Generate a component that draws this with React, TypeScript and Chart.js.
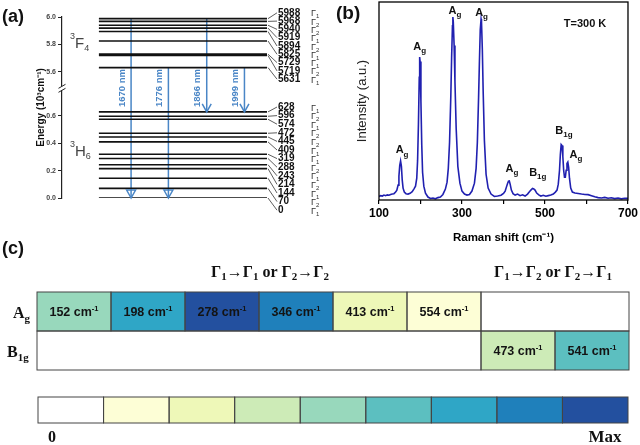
import React, { useEffect, useRef } from 'react';
import { Chart, registerables } from 'chart.js';

Chart.register(...registerables);

const SANS = '"Liberation Sans", Arial, Helvetica, sans-serif';
const SERIF = '"Liberation Serif", "Times New Roman", Times, serif';

/* ---------------- (a) energy levels ---------------- */
const upperLevels = [5988, 5968, 5940, 5919, 5894, 5825, 5729, 5719, 5631];
const upperSymmetry = [1, 2, 2, 1, 2, 1, 1, 2, 1];
const lowerLevels = [628, 596, 574, 472, 445, 409, 319, 288, 243, 214, 144, 70, 0];
const lowerSymmetry = [1, 2, 1, 2, 2, 1, 1, 2, 1, 2, 1, 2, 1];
const transitionNm = [1670, 1776, 1866, 1999];
const transitionFrom = [5988, 5631, 5988, 5631];
const transitionTo = [0, 0, 628, 628];
const energyTicks = [0.0, 0.2, 0.4, 0.6, 5.6, 5.8, 6.0];
const manifoldTerm = ['F', 'H'];
const manifoldJ = ['4', '6'];

/* ---------------- (b) Raman spectrum ---------------- */
const ramanShift = [
  100, 104, 108, 112, 116, 120, 124, 128, 132, 136, 140, 143, 146, 148, 150, 152, 154, 156, 158, 161, 165, 170, 175, 180, 184, 188,
  191, 193, 195, 197, 198, 199, 201, 203, 205, 208, 212, 218, 224, 230, 236, 242, 248, 254, 260,
  264, 267, 270, 273, 275, 277, 278, 279, 281, 283, 286, 290, 295, 300, 306, 312, 318, 324, 330,
  334, 337, 340, 342, 344, 346, 347, 349, 351, 354, 358, 363, 370, 378, 386, 394, 400,
  404, 407, 410, 412, 414, 416, 419, 423, 428, 434, 440, 446, 452, 458, 462, 466, 470, 473, 476, 480, 485, 490, 496, 502, 508, 514, 520, 525,
  529, 532, 535, 537, 539, 541, 543, 545, 547, 549, 551, 553, 555, 557, 559, 562, 566,
  572, 580, 588, 596, 604, 612, 620, 628, 636, 644, 652, 660, 668, 676, 684, 692, 700,
];
const ramanIntensity = [
  0.018, 0.022, 0.02, 0.025, 0.022, 0.026, 0.024, 0.028, 0.03, 0.032, 0.04, 0.05, 0.075, 0.12, 0.175, 0.197, 0.17, 0.1, 0.06, 0.04, 0.032, 0.03, 0.034, 0.042, 0.055, 0.07,
  0.11, 0.2, 0.38, 0.62, 0.722, 0.7, 0.5, 0.28, 0.14, 0.07, 0.035, 0.015, 0.008, 0.01, 0.006, 0.012, 0.015, 0.028, 0.055,
  0.09, 0.16, 0.29, 0.52, 0.72, 0.88, 0.924, 0.9, 0.78, 0.6, 0.36, 0.17, 0.085, 0.045, 0.03, 0.025, 0.028, 0.045, 0.085,
  0.16, 0.29, 0.52, 0.7, 0.86, 0.914, 0.9, 0.76, 0.55, 0.3, 0.13, 0.06, 0.03, 0.018, 0.02, 0.024, 0.033,
  0.045, 0.065, 0.085, 0.095, 0.096, 0.08, 0.05, 0.032, 0.025, 0.03, 0.022, 0.026, 0.02, 0.03, 0.04, 0.05, 0.058, 0.056, 0.05, 0.035, 0.026, 0.02, 0.024, 0.019, 0.022, 0.025, 0.03, 0.04,
  0.05, 0.08, 0.15, 0.23, 0.28, 0.275, 0.22, 0.15, 0.115, 0.115, 0.15, 0.185, 0.192, 0.165, 0.11, 0.06, 0.04,
  0.035, 0.033, 0.03, 0.028, 0.027, 0.022, 0.016, 0.012, 0.01, 0.013, 0.009, 0.011, 0.007, 0.01, 0.006, 0.009, 0.008,
];
const peakShift = [152, 198, 278, 346, 413, 473, 541, 554];
const peakMode = ['Ag', 'Ag', 'Ag', 'Ag', 'Ag', 'B1g', 'B1g', 'Ag'];
const ramanTickLabels = [100, 300, 500, 700];
const temperatureText = 'T=300 K';

/* ---------------- (c) mode table ---------------- */
const rowLabels = ['Ag', 'B1g'];
const agModes = [152, 198, 278, 346, 413, 554];
const agLevel = [4, 6, 8, 7, 2, 1];
const b1gModes = [473, 541];
const b1gLevel = [3, 5];
const headerSubscripts = [['1', '1', '2', '2'], ['1', '2', '2', '1']];
const colorbarLevels = [0, 1, 2, 3, 4, 5, 6, 7, 8];
const colorbarEnds = ['0', 'Max'];

/* ---------------- styles / layout ---------------- */
const palette = ['#ffffff', '#fdfed6', '#eef8b8', '#cdebb7', '#98d8bc', '#5cbfc0', '#2fa6c6', '#1f80bb', '#23509f'];
const BLUE = '#4a86c6';
const SPEC = '#2020b0';
const BREAK_SHIFT = 4.68;
const BREAK_AT = 0.8;
const mapE = (e: number) => (e >= 3000 ? e / 1000 - BREAK_SHIFT : e / 1000);
const LINE_X = [1.8, 10];
const ARROW_X = [3.37, 5.19, 7.06, 8.9];
const PEAK_DX = [1.5, 0, 2, 0.5, 3, 4, 2, 8.5];
const PEAK_DY = [7.5, 6.7, 2.6, 2.6, 8.7, 13, 10.7, 4];
const TOTAL_COLS = 8;

type Seg = { t: string; size: number; bold?: boolean; dy?: number };
function drawRich(ctx: any, segs: Seg[], x: number, y: number, align: string, family: string, color: string) {
  const fontOf = (s: Seg) => `${s.bold ? 'bold ' : ''}${s.size}px ${family}`;
  let w = 0;
  for (const s of segs) { ctx.font = fontOf(s); w += ctx.measureText(s.t).width; }
  let cx = align === 'left' ? x : align === 'center' ? x - w / 2 : x - w;
  ctx.fillStyle = color;
  ctx.textAlign = 'left';
  ctx.textBaseline = 'alphabetic';
  for (const s of segs) {
    ctx.font = fontOf(s);
    ctx.fillText(s.t, cx, y + (s.dy || 0));
    cx += ctx.measureText(s.t).width;
  }
}
const modeSegs = (mode: string, big: number, small: number): Seg[] => [
  { t: mode[0], size: big, bold: true },
  { t: mode.slice(1), size: small, bold: true, dy: small * 0.38 },
];

/* ---------------- panel (a) ---------------- */
const panelAPlugin = {
  id: 'panelA',
  afterDraw(chart: any) {
    const { ctx, chartArea: ca, scales } = chart;
    const xs = scales.x, ys = scales.y;
    ctx.save();
    // axis break
    const by = ys.getPixelForValue(BREAK_AT);
    ctx.fillStyle = '#fff';
    ctx.fillRect(ca.left - 3, by - 2, 6, 4);
    ctx.strokeStyle = '#222';
    ctx.lineWidth = 1;
    for (const o of [-2, 2]) {
      ctx.beginPath();
      ctx.moveTo(ca.left - 3.5, by + o + 2);
      ctx.lineTo(ca.left + 3.5, by + o - 2);
      ctx.stroke();
    }
    // arrow heads + wavelength labels
    transitionNm.forEach((nm, i) => {
      const px = xs.getPixelForValue(ARROW_X[i]);
      const tip = ys.getPixelForValue(mapE(transitionTo[i]));
      ctx.strokeStyle = BLUE;
      ctx.lineWidth = 1.5;
      ctx.beginPath();
      ctx.moveTo(px - 4.5, tip - 8);
      ctx.lineTo(px, tip);
      ctx.lineTo(px + 4.5, tip - 8);
      if (i < 2) ctx.closePath();
      ctx.stroke();
      ctx.save();
      ctx.translate(px - 9, 88);
      ctx.rotate(-Math.PI / 2);
      ctx.font = `bold 9.5px ${SANS}`;
      ctx.fillStyle = BLUE;
      ctx.textAlign = 'center';
      ctx.textBaseline = 'middle';
      ctx.fillText(`${nm} nm`, 0, 0);
      ctx.restore();
    });
    // level value labels
    const group = (levels: number[], syms: number[], y0: number, step: number) =>
      levels.forEach((e, i) => {
        const ly = ys.getPixelForValue(mapE(e));
        const ty = y0 + i * step;
        ctx.strokeStyle = '#333';
        ctx.lineWidth = 0.8;
        ctx.beginPath();
        ctx.moveTo(ca.right + 1, ly);
        ctx.lineTo(ca.right + 10, ty);
        ctx.stroke();
        ctx.font = `bold 10px ${SANS}`;
        ctx.fillStyle = '#111';
        ctx.textAlign = 'left';
        ctx.textBaseline = 'middle';
        ctx.fillText(String(e), ca.right + 11, ty);
        drawRich(ctx, [{ t: 'Γ', size: 9 }, { t: String(syms[i]), size: 6, dy: 2 }], ca.right + 44, ty + 3.5, 'left', SANS, '#333');
      });
    group(upperLevels, upperSymmetry, 12.8, 8.3);
    group(lowerLevels, lowerSymmetry, 107, 8.6);
    // manifold labels
    const mY = [48, 156];
    manifoldTerm.forEach((t, i) => {
      drawRich(ctx, [{ t: '3', size: 9, dy: -9 }, { t, size: 15 }, { t: manifoldJ[i], size: 9, dy: 3 }], 70, mY[i], 'left', SANS, '#444');
    });
    ctx.font = `bold 18px ${SANS}`;
    ctx.fillStyle = '#111';
    ctx.textAlign = 'left';
    ctx.textBaseline = 'middle';
    ctx.fillText('(a)', 2, 17.5);
    ctx.restore();
  },
};

const levelsConfig = () => {
  const datasets: any[] = [...upperLevels, ...lowerLevels].map((e) => ({
    data: [{ x: LINE_X[0], y: mapE(e) }, { x: LINE_X[1], y: mapE(e) }],
    showLine: true, borderColor: '#111', borderWidth: 1.6, pointRadius: 0,
  }));
  transitionNm.forEach((_, i) => {
    datasets.push({
      data: [{ x: ARROW_X[i], y: mapE(transitionFrom[i]) }, { x: ARROW_X[i], y: mapE(transitionTo[i]) }],
      showLine: true, borderColor: BLUE, borderWidth: 1.5, pointRadius: 0,
    });
  });
  return {
    type: 'scatter',
    data: { datasets },
    options: {
      responsive: false, animation: false, events: [],
      layout: { padding: { left: 0, top: 17, right: 63, bottom: 27 } },
      plugins: { legend: { display: false }, tooltip: { enabled: false } },
      scales: {
        x: { type: 'linear', display: false, min: 0, max: 10 },
        y: {
          type: 'linear', min: 0, max: mapE(6000),
          afterFit(s: any) { s.width = 62; },
          afterBuildTicks(s: any) { s.ticks = energyTicks.map((v) => ({ value: mapE(v * 1000) })); },
          ticks: {
            autoSkip: false, padding: 2, color: '#444',
            font: { size: 7, weight: 'bold', family: SANS },
            callback: (v: number) => (v > BREAK_AT ? v + BREAK_SHIFT : v).toFixed(1),
          },
          grid: { display: true, drawOnChartArea: false, drawTicks: true, tickLength: 4, color: '#222', lineWidth: 1 },
          border: { display: true, color: '#222', width: 1.2 },
          title: {
            display: true, text: 'Energy (10³cm⁻¹)', color: '#111',
            font: { size: 10, weight: 'bold', family: SANS }, padding: { top: 35.7, bottom: 0 },
          },
        },
      },
    },
    plugins: [panelAPlugin],
  };
};

/* ---------------- panel (b) ---------------- */
const localMax = (c: number) =>
  Math.max(...ramanShift.map((x, i) => (Math.abs(x - c) <= 6 ? ramanIntensity[i] : 0)));

const panelBPlugin = {
  id: 'panelB',
  afterDraw(chart: any) {
    const { ctx, chartArea: ca, scales } = chart;
    const xs = scales.x, ys = scales.y;
    ctx.save();
    ctx.strokeStyle = '#000';
    ctx.lineWidth = 1.3;
    ctx.strokeRect(ca.left, ca.top, ca.right - ca.left, ca.bottom - ca.top);
    peakShift.forEach((p, i) => {
      const px = xs.getPixelForValue(p) + PEAK_DX[i];
      const py = ys.getPixelForValue(localMax(p)) - PEAK_DY[i];
      drawRich(ctx, modeSegs(peakMode[i], 11, 8), px, py, 'center', SANS, '#111');
    });
    ctx.font = `bold 11px ${SANS}`;
    ctx.fillStyle = '#111';
    ctx.textAlign = 'center';
    ctx.textBaseline = 'middle';
    ctx.fillText(temperatureText, 255, 24);
    ctx.font = `bold 19px ${SANS}`;
    ctx.textAlign = 'left';
    ctx.fillText('(b)', 6, 14);
    ctx.restore();
  },
};

const ramanConfig = () => ({
  type: 'scatter',
  data: {
    datasets: [{
      data: ramanShift.map((x, i) => ({ x, y: ramanIntensity[i] })),
      showLine: true, borderColor: SPEC, borderWidth: 1.6, pointRadius: 0, tension: 0,
    }],
  },
  options: {
    responsive: false, animation: false, events: [],
    layout: { padding: { left: 0, top: 2, right: 12, bottom: 0 } },
    plugins: { legend: { display: false }, tooltip: { enabled: false } },
    scales: {
      x: {
        type: 'linear', min: 100, max: 700,
        afterFit(s: any) { s.height = 50; },
        ticks: {
          stepSize: 100, autoSkip: false, maxRotation: 0, padding: 2, color: '#000',
          font: { size: 12, weight: 'bold', family: SANS },
          callback: (v: number) => (ramanTickLabels.includes(v) ? String(v) : ''),
        },
        grid: { display: true, drawOnChartArea: false, tickLength: 4, color: '#000', lineWidth: 1.2 },
        border: { display: false },
        title: {
          display: true, text: 'Raman shift (cm⁻¹)', color: '#000',
          font: { size: 11.5, weight: 'bold', family: SANS }, padding: { top: 0, bottom: 5 },
        },
      },
      y: {
        type: 'linear', min: 0, max: 1,
        afterFit(s: any) { s.width = 49; },
        ticks: { display: false },
        grid: { display: false },
        border: { display: false },
        title: {
          display: true, text: 'Intensity (a.u.)', color: '#222',
          font: { size: 13, family: SANS }, padding: { top: 25, bottom: 0 },
        },
      },
    },
  },
  plugins: [panelBPlugin],
});

/* ---------------- panel (c) ---------------- */
const cellBorders = {
  id: 'cellBorders',
  afterDatasetsDraw(chart: any) {
    const { ctx } = chart;
    const meta = chart.getDatasetMeta(0);
    ctx.save();
    ctx.strokeStyle = '#444';
    ctx.lineWidth = 1;
    meta.data.forEach((el: any) => {
      const { x, y, base, height } = el.getProps(['x', 'y', 'base', 'height'], true);
      ctx.strokeRect(Math.min(x, base), y - height / 2, Math.abs(x - base), height);
    });
    ctx.restore();
  },
};

const tableTexts = [...agModes, null, null, ...b1gModes];
const tablePlugin = {
  id: 'tableText',
  afterDatasetsDraw(chart: any) {
    const { ctx } = chart;
    const meta = chart.getDatasetMeta(0);
    ctx.save();
    meta.data.forEach((el: any, i: number) => {
      const m = tableTexts[i];
      if (m === null) return;
      const { x, y, base } = el.getProps(['x', 'y', 'base'], true);
      drawRich(ctx, [{ t: `${m} cm`, size: 12.5, bold: true }, { t: '-1', size: 7.5, bold: true, dy: -5 }],
        (x + base) / 2, y + 4.5, 'center', SANS, '#141414');
    });
    const ys = chart.scales.y;
    rowLabels.forEach((r, i) => {
      const cy = ys.getPixelForValue(i);
      drawRich(ctx, modeSegs(r, 16, 11), i === 0 ? 13 : 7, cy + 6.5, 'left', SERIF, '#111');
    });
    const hx = [270, 553];
    headerSubscripts.forEach((sub, i) => {
      const segs: Seg[] = [
        { t: 'Γ', size: 16, bold: true }, { t: sub[0], size: 11, bold: true, dy: 3 },
        { t: '→', size: 16, bold: true },
        { t: 'Γ', size: 16, bold: true }, { t: sub[1], size: 11, bold: true, dy: 3 },
        { t: ' or ', size: 16, bold: true },
        { t: 'Γ', size: 16, bold: true }, { t: sub[2], size: 11, bold: true, dy: 3 },
        { t: '→', size: 16, bold: true },
        { t: 'Γ', size: 16, bold: true }, { t: sub[3], size: 11, bold: true, dy: 3 },
      ];
      drawRich(ctx, segs, hx[i], 47, 'center', SERIF, '#111');
    });
    ctx.font = `bold 18px ${SANS}`;
    ctx.fillStyle = '#111';
    ctx.textAlign = 'left';
    ctx.textBaseline = 'middle';
    ctx.fillText('(c)', 2, 19);
    ctx.restore();
  },
};

const tableConfig = () => {
  const b1gStart = TOTAL_COLS - b1gModes.length;
  const data = [
    ...agModes.map((_, i) => ({ x: [i, i + 1], y: rowLabels[0] })),
    { x: [agModes.length, TOTAL_COLS], y: rowLabels[0] },
    { x: [0, b1gStart], y: rowLabels[1] },
    ...b1gModes.map((_, i) => ({ x: [b1gStart + i, b1gStart + i + 1], y: rowLabels[1] })),
  ];
  const colors = [...agLevel.map((l) => palette[l]), palette[0], palette[0], ...b1gLevel.map((l) => palette[l])];
  return {
    type: 'bar',
    data: {
      labels: rowLabels,
      datasets: [{ data, backgroundColor: colors, borderWidth: 0, barPercentage: 1, categoryPercentage: 1, inflateAmount: 0 }],
    },
    options: {
      indexAxis: 'y', responsive: false, animation: false, events: [],
      layout: { padding: { left: 37, right: 11, top: 62, bottom: 10 } },
      plugins: { legend: { display: false }, tooltip: { enabled: false } },
      scales: {
        x: { type: 'linear', min: 0, max: TOTAL_COLS, display: false },
        y: { type: 'category', display: false },
      },
    },
    plugins: [cellBorders, tablePlugin],
  };
};

const colorbarPlugin = {
  id: 'colorbarText',
  afterDraw(chart: any) {
    const { ctx } = chart;
    ctx.save();
    ctx.font = `bold 16px ${SERIF}`;
    ctx.fillStyle = '#111';
    ctx.textAlign = 'center';
    ctx.textBaseline = 'middle';
    ctx.fillText(colorbarEnds[0], 52, 58);
    ctx.font = `bold 17px ${SERIF}`;
    ctx.fillText(colorbarEnds[1], 605, 58);
    ctx.restore();
  },
};

const colorbarConfig = () => ({
  type: 'bar',
  data: {
    labels: ['scale'],
    datasets: [{
      data: colorbarLevels.map((_, i) => ({ x: [i, i + 1], y: 'scale' })),
      backgroundColor: colorbarLevels.map((l) => palette[l]),
      borderWidth: 0, barPercentage: 1, categoryPercentage: 1, inflateAmount: 0,
    }],
  },
  options: {
    indexAxis: 'y', responsive: false, animation: false, events: [],
    layout: { padding: { left: 38, right: 12, top: 17, bottom: 22 } },
    plugins: { legend: { display: false }, tooltip: { enabled: false } },
    scales: {
      x: { type: 'linear', min: 0, max: colorbarLevels.length, display: false },
      y: { type: 'category', display: false },
    },
  },
  plugins: [cellBorders, colorbarPlugin],
});

/* ---------------- React ---------------- */
function Panel({ left, top, width, height, config }: any) {
  const ref = useRef<HTMLCanvasElement | null>(null);
  useEffect(() => {
    if (!ref.current) return;
    const chart = new Chart(ref.current, config());
    return () => chart.destroy();
  }, []);
  return <canvas ref={ref} width={width} height={height} style={{ position: 'absolute', left, top, width, height }} />;
}

export default function App() {
  return (
    <div style={{ position: 'fixed', left: 0, top: 0, width: 640, height: 445, background: '#fff', overflow: 'hidden' }}>
      <Panel left={0} top={0} width={330} height={225} config={levelsConfig} />
      <Panel left={330} top={0} width={310} height={250} config={ramanConfig} />
      <Panel left={0} top={230} width={640} height={150} config={tableConfig} />
      <Panel left={0} top={380} width={640} height={65} config={colorbarConfig} />
    </div>
  );
}
